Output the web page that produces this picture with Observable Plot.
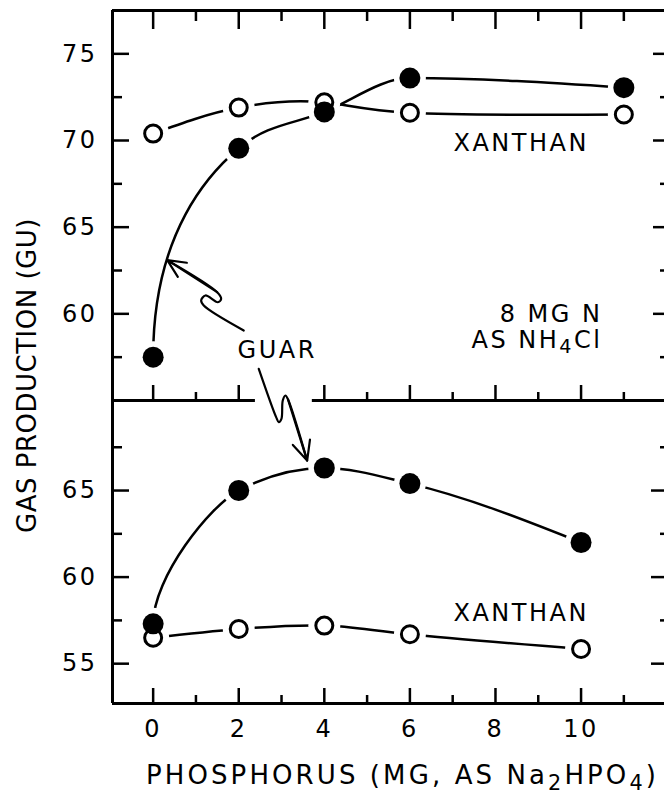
<!DOCTYPE html>
<html><head><meta charset="utf-8">
<script src="https://cdn.jsdelivr.net/npm/d3@7"></script>
<script src="https://cdn.jsdelivr.net/npm/@observablehq/plot@0.6"></script>
<style>
body{margin:0;background:#fff;}
#chart{position:relative;width:664px;height:796px;}
#chart svg{position:absolute;left:0;top:0;}
</style></head><body><div id="chart"></div>
<script>
// ---- data ----
const phosphorusTop = [0, 2, 4, 6, 11];
const guarTop = [57.5, 69.55, 71.65, 73.6, 73.05];
const xanthanTop = [70.4, 71.9, 72.2, 71.6, 71.5];
const phosphorusBottom = [0, 2, 4, 6, 10];
const guarBottom = [57.3, 65.0, 66.3, 65.4, 62.0];
const xanthanBottom = [56.5, 57.0, 57.2, 56.7, 55.85];

// ---- ticks ----
const xMajorTicks = [0, 2, 4, 6, 8, 10];
const xMinorTicks = [1, 3, 5, 7, 9, 11];
const xDividerMinorTicks = [1, 5, 7, 9, 11];
const yTopMajorTicks = [60, 65, 70, 75];
const yTopMinorTicks = [57.5, 62.5, 67.5, 72.5];
const yBottomMajorTicks = [55, 60, 65];
const yBottomMinorTicks = [57.5, 62.5, 67.5];

// ---- text ----
const yTitle = "GAS PRODUCTION (GU)";
const xTitle = "PHOSPHORUS (MG, AS Na₂HPO₄)";
const topNotes = [
  {text: "XANTHAN", x: 8.6, y: 69.83, anchor: "middle"},
  {text: "8 MG N", x: 10.5, y: 60.0, anchor: "end"},
  {text: "AS NH₄Cl", x: 10.5, y: 58.45, anchor: "end"},
  {text: "GUAR", x: 2.9, y: 57.88, anchor: "middle"}
];
const bottomNotes = [{text: "XANTHAN", x: 8.6, y: 57.9, anchor: "middle"}];

// arrow paths from "GUAR" (annotation, data units of each panel)
const arrowTop = [
  {x: 2.117, y: 59.04}, {x: 1.183, y: 60.48}, {x: 1.122, y: 60.77}, {x: 1.222, y: 61.06},
  {x: 1.510, y: 60.67}, {x: 1.589, y: 60.87}, {x: 1.496, y: 61.25}, {x: 0.33, y: 63.1}
];
const arrowBottom = [
  {x: 2.468, y: 72.03}, {x: 2.874, y: 69.24}, {x: 2.935, y: 68.95}, {x: 2.998, y: 69.14},
  {x: 3.029, y: 70.2}, {x: 3.092, y: 70.49}, {x: 3.155, y: 70.24}, {x: 3.599, y: 66.73}
];
const dividerSegments = [{x1: -0.95, x2: 2.39}, {x1: 3.72, x2: 11.95}];

const xDomain = [-0.95, 11.95];
const topDomain = [55, 77.5];
const bottomDomain = [52.7, 70.2];

const W = 664, H = 796;
const topRows = phosphorusTop.map((p, i) => ({p, guar: guarTop[i], xan: xanthanTop[i]}));
const bottomRows = phosphorusBottom.map((p, i) => ({p, guar: guarBottom[i], xan: xanthanBottom[i]}));

const baseStyle = {fontFamily: "DejaVu Sans", fontSize: "24px", background: "transparent", letterSpacing: "2.5px", color: "black"};
const lw = 2.5;

// hand-drawn look: monotone tangents, but the curve leaves its first point steeply
function steepStart(k) {
  return function (context) {
    let pts = [];
    return {
      areaStart() {}, areaEnd() {},
      lineStart() { pts = []; },
      point(x, y) { pts.push([+x, +y]); },
      lineEnd() {
        const n = pts.length;
        if (!n) return;
        context.moveTo(pts[0][0], pts[0][1]);
        if (n === 1) return;
        const s = [];
        for (let i = 0; i < n - 1; i++) s.push((pts[i + 1][1] - pts[i][1]) / (pts[i + 1][0] - pts[i][0]));
        const m = new Array(n).fill(0);
        for (let i = 1; i < n - 1; i++) {
          const h0 = pts[i][0] - pts[i - 1][0], h1 = pts[i + 1][0] - pts[i][0];
          const p = (s[i - 1] * h1 + s[i] * h0) / (h0 + h1);
          m[i] = (Math.sign(s[i - 1]) + Math.sign(s[i])) * Math.min(Math.abs(s[i - 1]), Math.abs(s[i]), 0.5 * Math.abs(p)) || 0;
        }
        m[n - 1] = n > 2 ? (3 * s[n - 2] - m[n - 2]) / 2 : s[0];
        for (let i = 0; i < n - 1; i++) {
          const [x0, y0] = pts[i], [x1, y1] = pts[i + 1], h = (x1 - x0) / 3;
          const c1 = i === 0 ? [x0, y0 + k * (y1 - y0)] : [x0 + h, y0 + m[i] * h];
          const c2 = [x1 - h, y1 - m[i + 1] * h];
          context.bezierCurveTo(c1[0], c1[1], c2[0], c2[1], x1, y1);
        }
      }
    };
  };
}

function seriesMarks(rows, guarCurve, xanCurve) {
  return [
    Plot.line(rows, {x: "p", y: "xan", curve: xanCurve, stroke: "black", strokeWidth: lw}),
    Plot.line(rows, {x: "p", y: "guar", curve: guarCurve, stroke: "black", strokeWidth: lw}),
    Plot.dot(rows, {x: "p", y: "xan", r: 16, fill: "white"}),
    Plot.dot(rows, {x: "p", y: "guar", r: 16, fill: "white"}),
    Plot.dot(rows, {x: "p", y: "xan", r: 8.5, fill: "white", stroke: "black", strokeWidth: 3}),
    Plot.dot(rows, {x: "p", y: "guar", r: 10.5, fill: "black"})
  ];
}
function arrowMarks(path) {
  const n = path.length;
  return [
    Plot.line(path, {x: "x", y: "y", curve: "catmull-rom", stroke: "black", strokeWidth: 2.2}),
    Plot.arrow([{x1: path[n - 2].x, y1: path[n - 2].y, x2: path[n - 1].x, y2: path[n - 1].y}],
      {x1: "x1", y1: "y1", x2: "x2", y2: "y2", stroke: "black", strokeWidth: 2.2, headLength: 16, headAngle: 50})
  ];
}
function noteMarks(notes) {
  return ["middle", "end"].map(a => Plot.text(notes.filter(d => d.anchor === a),
    {x: "x", y: "y", text: "text", textAnchor: a, lineAnchor: "middle", fontSize: 24, fill: "black"}));
}

const topPlot = Plot.plot({
  width: W, height: H, marginLeft: 112, marginRight: 0, marginTop: 10, marginBottom: H - 400,
  x: {domain: xDomain}, y: {domain: topDomain}, style: baseStyle,
  marks: [
    Plot.ruleY([topDomain[1]], {stroke: "black", strokeWidth: 3}),
    Plot.ruleX([xDomain[0]], {stroke: "black", strokeWidth: 3}),
    Plot.ruleY(dividerSegments, {y: topDomain[0], x1: "x1", x2: "x2", stroke: "black", strokeWidth: 3}),
    Plot.axisX(xMajorTicks, {anchor: "top", tickSize: -18, strokeWidth: lw, fill: "none"}),
    Plot.axisX(xMinorTicks, {anchor: "top", tickSize: -10, strokeWidth: lw, fill: "none"}),
    Plot.axisX(xMajorTicks, {anchor: "bottom", tickSize: -15, strokeWidth: lw, fill: "none"}),
    Plot.axisX(xDividerMinorTicks, {anchor: "bottom", tickSize: -8, strokeWidth: lw, fill: "none"}),
    Plot.axisY(yTopMajorTicks, {anchor: "left", tickSize: -17, strokeWidth: lw, fill: "none"}),
    Plot.axisY(yTopMinorTicks, {anchor: "left", tickSize: -10, strokeWidth: lw, fill: "none"}),
    Plot.axisY(yTopMajorTicks, {anchor: "right", tickSize: -12, strokeWidth: lw, fill: "none"}),
    Plot.axisY(yTopMinorTicks, {anchor: "right", tickSize: -5, strokeWidth: lw, fill: "none"}),
    Plot.axisY(yTopMajorTicks, {anchor: "left", tickSize: 0, tickPadding: 15, label: null, fill: "black"}),
    ...seriesMarks(topRows, steepStart(0.6), "natural"),
    ...arrowMarks(arrowTop),
    ...noteMarks(topNotes),
    Plot.text([yTitle], {frameAnchor: "left", textAnchor: "middle", dx: -85, dy: 170, rotate: -90, fontSize: 26, fill: "black", lineAnchor: "middle"})
  ]
});

const bottomPlot = Plot.plot({
  width: W, height: H, marginLeft: 112, marginRight: 0, marginTop: 400, marginBottom: H - 703,
  x: {domain: xDomain}, y: {domain: bottomDomain}, style: baseStyle,
  marks: [
    Plot.ruleY([bottomDomain[0]], {stroke: "black", strokeWidth: 3}),
    Plot.ruleX([xDomain[0]], {stroke: "black", strokeWidth: 3}),
    Plot.axisX(xMajorTicks, {anchor: "bottom", tickSize: -15, strokeWidth: lw, fill: "none"}),
    Plot.axisX(xMinorTicks, {anchor: "bottom", tickSize: -8, strokeWidth: lw, fill: "none"}),
    Plot.axisX(xMajorTicks, {anchor: "bottom", tickSize: 0, tickPadding: 16, label: null, fill: "black"}),
    Plot.axisY(yBottomMajorTicks, {anchor: "left", tickSize: -17, strokeWidth: lw, fill: "none"}),
    Plot.axisY(yBottomMinorTicks, {anchor: "left", tickSize: -10, strokeWidth: lw, fill: "none"}),
    Plot.axisY(yBottomMajorTicks, {anchor: "right", tickSize: -14, strokeWidth: lw, fill: "none"}),
    Plot.axisY(yBottomMinorTicks, {anchor: "right", tickSize: -5, strokeWidth: lw, fill: "none"}),
    Plot.axisY(yBottomMajorTicks, {anchor: "left", tickSize: 0, tickPadding: 15, label: null, fill: "black"}),
    ...seriesMarks(bottomRows, steepStart(0.35), "natural"),
    ...arrowMarks(arrowBottom),
    ...noteMarks(bottomNotes),
    Plot.text([xTitle], {frameAnchor: "bottom", dx: 14, dy: 72, fontSize: 26, fill: "black", lineAnchor: "middle"})
  ]
});

const chart = document.getElementById("chart");
chart.append(topPlot, bottomPlot);

// letter spacing of the titles and real subscripts (tspans) for the chemical formulas
const subs = "₀₁₂₃₄₅₆₇₈₉";
const NS = "http://www.w3.org/2000/svg";
for (const t of chart.querySelectorAll("text")) {
  const s = t.textContent;
  if (s === yTitle) t.setAttribute("letter-spacing", "0.5");
  if (s === xTitle) t.setAttribute("letter-spacing", "3.1");
  if ([...s].some(c => subs.includes(c))) {
    const size = parseFloat(getComputedStyle(t).fontSize) || 24;
    const shift = Math.round(size * 0.22);
    t.textContent = "";
    const runs = [];
    for (const c of s) {
      const isSub = subs.includes(c);
      const ch = isSub ? String(subs.indexOf(c)) : c;
      if (runs.length && runs[runs.length - 1].sub === isSub) runs[runs.length - 1].text += ch;
      else runs.push({sub: isSub, text: ch});
    }
    let prevSub = false;
    for (const r of runs) {
      const ts = document.createElementNS(NS, "tspan");
      ts.textContent = r.text;
      if (r.sub) { ts.setAttribute("dy", shift); ts.setAttribute("font-size", size * 0.8); }
      else if (prevSub) ts.setAttribute("dy", -shift);
      prevSub = r.sub;
      t.appendChild(ts);
    }
  }
}
</script></body></html>
